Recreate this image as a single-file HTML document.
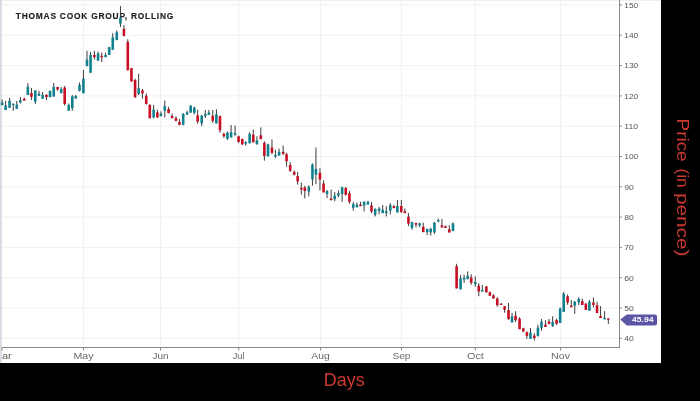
<!DOCTYPE html>
<html><head><meta charset="utf-8"><style>
html,body{margin:0;padding:0;background:#000;width:700px;height:401px;overflow:hidden}
svg{display:block;will-change:transform}
text{font-family:"Liberation Sans",sans-serif}
</style></head><body>
<svg width="700" height="401" viewBox="0 0 700 401">
<rect x="0" y="0" width="661" height="363" fill="#fff"/>
<rect x="0" y="0" width="661" height="1" fill="#efefef"/>
<rect x="0" y="0" width="2" height="363" fill="#dadde4"/>
<rect x="2" y="337.80" width="617" height="1" fill="#f1f1f1"/>
<rect x="2" y="307.50" width="617" height="1" fill="#f1f1f1"/>
<rect x="2" y="277.20" width="617" height="1" fill="#f1f1f1"/>
<rect x="2" y="246.90" width="617" height="1" fill="#f1f1f1"/>
<rect x="2" y="216.60" width="617" height="1" fill="#f1f1f1"/>
<rect x="2" y="186.30" width="617" height="1" fill="#f1f1f1"/>
<rect x="2" y="156.00" width="617" height="1" fill="#f1f1f1"/>
<rect x="2" y="125.70" width="617" height="1" fill="#f1f1f1"/>
<rect x="2" y="95.40" width="617" height="1" fill="#f1f1f1"/>
<rect x="2" y="65.10" width="617" height="1" fill="#f1f1f1"/>
<rect x="2" y="34.80" width="617" height="1" fill="#f1f1f1"/>
<rect x="2" y="4.50" width="617" height="1" fill="#f1f1f1"/>
<rect x="83.00" y="0" width="1" height="347" fill="#f1f1f1"/>
<rect x="160.00" y="0" width="1" height="347" fill="#f1f1f1"/>
<rect x="238.20" y="0" width="1" height="347" fill="#f1f1f1"/>
<rect x="320.10" y="0" width="1" height="347" fill="#f1f1f1"/>
<rect x="401.00" y="0" width="1" height="347" fill="#f1f1f1"/>
<rect x="474.90" y="0" width="1" height="347" fill="#f1f1f1"/>
<rect x="560.10" y="0" width="1" height="347" fill="#f1f1f1"/>
<rect x="2" y="347" width="618" height="1" fill="#8a8a8a"/>
<rect x="619" y="0" width="1" height="347.8" fill="#8a8a8a"/>
<rect x="83.00" y="347.5" width="1" height="3" fill="#8a8a8a"/>
<rect x="160.00" y="347.5" width="1" height="3" fill="#8a8a8a"/>
<rect x="238.20" y="347.5" width="1" height="3" fill="#8a8a8a"/>
<rect x="320.10" y="347.5" width="1" height="3" fill="#8a8a8a"/>
<rect x="401.00" y="347.5" width="1" height="3" fill="#8a8a8a"/>
<rect x="474.90" y="347.5" width="1" height="3" fill="#8a8a8a"/>
<rect x="560.10" y="347.5" width="1" height="3" fill="#8a8a8a"/>
<rect x="1.5" y="347.5" width="1" height="3" fill="#8a8a8a"/>
<rect x="619.5" y="337.80" width="2.5" height="1" fill="#8a8a8a"/>
<rect x="619.5" y="307.50" width="2.5" height="1" fill="#8a8a8a"/>
<rect x="619.5" y="277.20" width="2.5" height="1" fill="#8a8a8a"/>
<rect x="619.5" y="246.90" width="2.5" height="1" fill="#8a8a8a"/>
<rect x="619.5" y="216.60" width="2.5" height="1" fill="#8a8a8a"/>
<rect x="619.5" y="186.30" width="2.5" height="1" fill="#8a8a8a"/>
<rect x="619.5" y="156.00" width="2.5" height="1" fill="#8a8a8a"/>
<rect x="619.5" y="125.70" width="2.5" height="1" fill="#8a8a8a"/>
<rect x="619.5" y="95.40" width="2.5" height="1" fill="#8a8a8a"/>
<rect x="619.5" y="65.10" width="2.5" height="1" fill="#8a8a8a"/>
<rect x="619.5" y="34.80" width="2.5" height="1" fill="#8a8a8a"/>
<rect x="619.5" y="4.50" width="2.5" height="1" fill="#8a8a8a"/>
<text x="15.8" y="18.9" font-size="8.4" font-weight="bold" fill="#1e1e1e" stroke="#1e1e1e" stroke-width="0.15" textLength="157.5" lengthAdjust="spacing">THOMAS COOK GROUP, ROLLING</text>
<rect x="1.61" y="99.50" width="1.0" height="6.00" fill="#3c3c3c"/>
<rect x="0.81" y="102.50" width="2.6" height="2.50" fill="#10828f"/>
<rect x="5.11" y="101.00" width="1.0" height="9.00" fill="#3c3c3c"/>
<rect x="4.31" y="105.50" width="2.6" height="4.50" fill="#10828f"/>
<rect x="9.06" y="98.00" width="1.0" height="10.00" fill="#3c3c3c"/>
<rect x="8.26" y="100.80" width="2.6" height="7.00" fill="#10828f"/>
<rect x="12.71" y="103.70" width="1.0" height="7.10" fill="#3c3c3c"/>
<rect x="11.91" y="103.70" width="2.6" height="1.30" fill="#10828f"/>
<rect x="16.25" y="101.00" width="1.0" height="7.80" fill="#3c3c3c"/>
<rect x="15.45" y="104.70" width="2.6" height="4.10" fill="#10828f"/>
<rect x="19.85" y="97.00" width="1.0" height="6.50" fill="#3c3c3c"/>
<rect x="19.05" y="100.00" width="2.6" height="2.50" fill="#10828f"/>
<rect x="23.75" y="97.50" width="1.0" height="3.30" fill="#3c3c3c"/>
<rect x="22.95" y="98.80" width="2.6" height="1.70" fill="#c80f24"/>
<rect x="27.35" y="83.20" width="1.0" height="11.80" fill="#3c3c3c"/>
<rect x="26.55" y="86.80" width="2.6" height="8.20" fill="#10828f"/>
<rect x="30.95" y="88.00" width="1.0" height="12.00" fill="#3c3c3c"/>
<rect x="30.15" y="93.00" width="2.6" height="3.80" fill="#c80f24"/>
<rect x="34.79" y="90.00" width="1.0" height="14.00" fill="#3c3c3c"/>
<rect x="33.99" y="90.50" width="2.6" height="11.30" fill="#10828f"/>
<rect x="38.49" y="90.70" width="1.0" height="5.30" fill="#3c3c3c"/>
<rect x="37.69" y="93.80" width="2.6" height="2.00" fill="#10828f"/>
<rect x="42.09" y="92.00" width="1.0" height="6.80" fill="#3c3c3c"/>
<rect x="41.29" y="94.80" width="2.6" height="4.00" fill="#10828f"/>
<rect x="45.94" y="94.20" width="1.0" height="5.80" fill="#3c3c3c"/>
<rect x="45.14" y="94.80" width="2.6" height="2.40" fill="#c80f24"/>
<rect x="49.54" y="90.50" width="1.0" height="7.00" fill="#3c3c3c"/>
<rect x="48.74" y="91.00" width="2.6" height="6.00" fill="#10828f"/>
<rect x="53.23" y="83.00" width="1.0" height="13.50" fill="#3c3c3c"/>
<rect x="52.43" y="86.80" width="2.6" height="9.70" fill="#10828f"/>
<rect x="57.08" y="86.80" width="1.0" height="4.00" fill="#3c3c3c"/>
<rect x="56.28" y="87.00" width="2.6" height="2.50" fill="#c80f24"/>
<rect x="60.73" y="87.00" width="1.0" height="6.50" fill="#3c3c3c"/>
<rect x="59.93" y="89.00" width="2.6" height="4.00" fill="#10828f"/>
<rect x="64.18" y="86.00" width="1.0" height="19.50" fill="#3c3c3c"/>
<rect x="63.38" y="87.60" width="2.6" height="16.40" fill="#c80f24"/>
<rect x="68.23" y="103.50" width="1.0" height="7.20" fill="#3c3c3c"/>
<rect x="67.43" y="105.00" width="2.6" height="5.70" fill="#10828f"/>
<rect x="71.77" y="95.00" width="1.0" height="15.70" fill="#3c3c3c"/>
<rect x="70.97" y="96.40" width="2.6" height="11.80" fill="#10828f"/>
<rect x="75.27" y="94.80" width="1.0" height="4.10" fill="#3c3c3c"/>
<rect x="74.47" y="96.00" width="2.6" height="2.30" fill="#10828f"/>
<rect x="79.02" y="82.60" width="1.0" height="8.80" fill="#3c3c3c"/>
<rect x="78.22" y="84.90" width="2.6" height="5.90" fill="#10828f"/>
<rect x="82.92" y="69.90" width="1.0" height="23.40" fill="#3c3c3c"/>
<rect x="82.12" y="78.70" width="2.6" height="14.60" fill="#10828f"/>
<rect x="86.47" y="50.80" width="1.0" height="15.70" fill="#3c3c3c"/>
<rect x="85.67" y="59.60" width="2.6" height="6.20" fill="#10828f"/>
<rect x="90.06" y="52.10" width="1.0" height="20.60" fill="#3c3c3c"/>
<rect x="89.26" y="55.00" width="2.6" height="17.70" fill="#10828f"/>
<rect x="93.86" y="50.80" width="1.0" height="8.80" fill="#3c3c3c"/>
<rect x="93.06" y="55.00" width="2.6" height="2.20" fill="#c80f24"/>
<rect x="97.56" y="51.60" width="1.0" height="9.00" fill="#3c3c3c"/>
<rect x="96.76" y="53.50" width="2.6" height="7.10" fill="#10828f"/>
<rect x="101.21" y="52.70" width="1.0" height="9.30" fill="#3c3c3c"/>
<rect x="100.41" y="55.80" width="2.6" height="1.40" fill="#c80f24"/>
<rect x="105.06" y="52.70" width="1.0" height="4.50" fill="#3c3c3c"/>
<rect x="104.26" y="55.00" width="2.6" height="2.20" fill="#10828f"/>
<rect x="108.70" y="46.80" width="1.0" height="8.20" fill="#3c3c3c"/>
<rect x="107.90" y="47.10" width="2.6" height="7.90" fill="#10828f"/>
<rect x="112.25" y="33.20" width="1.0" height="16.50" fill="#3c3c3c"/>
<rect x="111.45" y="37.50" width="2.6" height="12.20" fill="#10828f"/>
<rect x="116.25" y="30.50" width="1.0" height="9.60" fill="#3c3c3c"/>
<rect x="115.45" y="32.30" width="2.6" height="7.80" fill="#10828f"/>
<rect x="119.95" y="6.10" width="1.0" height="20.90" fill="#3c3c3c"/>
<rect x="119.15" y="17.50" width="2.6" height="6.10" fill="#10828f"/>
<rect x="123.44" y="25.30" width="1.0" height="11.30" fill="#3c3c3c"/>
<rect x="122.64" y="28.80" width="2.6" height="7.00" fill="#c80f24"/>
<rect x="127.29" y="39.30" width="1.0" height="31.00" fill="#3c3c3c"/>
<rect x="126.49" y="41.90" width="2.6" height="28.40" fill="#c80f24"/>
<rect x="130.94" y="68.00" width="1.0" height="13.50" fill="#3c3c3c"/>
<rect x="130.14" y="68.00" width="2.6" height="13.50" fill="#c80f24"/>
<rect x="134.59" y="78.60" width="1.0" height="19.30" fill="#3c3c3c"/>
<rect x="133.79" y="80.00" width="2.6" height="17.20" fill="#c80f24"/>
<rect x="138.14" y="73.70" width="1.0" height="21.30" fill="#3c3c3c"/>
<rect x="137.34" y="88.20" width="2.6" height="5.70" fill="#10828f"/>
<rect x="141.98" y="88.90" width="1.0" height="9.90" fill="#3c3c3c"/>
<rect x="141.18" y="90.50" width="2.6" height="2.90" fill="#c80f24"/>
<rect x="145.73" y="93.40" width="1.0" height="11.20" fill="#3c3c3c"/>
<rect x="144.93" y="95.70" width="2.6" height="8.30" fill="#c80f24"/>
<rect x="149.28" y="104.00" width="1.0" height="14.50" fill="#3c3c3c"/>
<rect x="148.48" y="105.00" width="2.6" height="13.10" fill="#c80f24"/>
<rect x="153.13" y="105.00" width="1.0" height="13.50" fill="#3c3c3c"/>
<rect x="152.33" y="109.60" width="2.6" height="7.80" fill="#10828f"/>
<rect x="156.88" y="109.60" width="1.0" height="8.40" fill="#3c3c3c"/>
<rect x="156.08" y="112.30" width="2.6" height="5.10" fill="#c80f24"/>
<rect x="160.42" y="111.40" width="1.0" height="5.10" fill="#3c3c3c"/>
<rect x="159.62" y="113.60" width="2.6" height="2.30" fill="#10828f"/>
<rect x="164.27" y="100.60" width="1.0" height="16.80" fill="#3c3c3c"/>
<rect x="163.47" y="106.20" width="2.6" height="4.50" fill="#10828f"/>
<rect x="168.07" y="106.90" width="1.0" height="6.60" fill="#3c3c3c"/>
<rect x="167.27" y="109.10" width="2.6" height="3.90" fill="#c80f24"/>
<rect x="171.57" y="113.60" width="1.0" height="4.90" fill="#3c3c3c"/>
<rect x="170.77" y="115.90" width="2.6" height="2.20" fill="#c80f24"/>
<rect x="175.47" y="116.30" width="1.0" height="5.00" fill="#3c3c3c"/>
<rect x="174.67" y="118.10" width="2.6" height="2.70" fill="#c80f24"/>
<rect x="178.96" y="119.00" width="1.0" height="6.30" fill="#3c3c3c"/>
<rect x="178.16" y="121.90" width="2.6" height="2.90" fill="#c80f24"/>
<rect x="182.71" y="113.00" width="1.0" height="12.30" fill="#3c3c3c"/>
<rect x="181.91" y="114.00" width="2.6" height="10.80" fill="#10828f"/>
<rect x="186.61" y="110.70" width="1.0" height="4.30" fill="#3c3c3c"/>
<rect x="185.81" y="112.30" width="2.6" height="2.20" fill="#10828f"/>
<rect x="190.16" y="105.00" width="1.0" height="7.90" fill="#3c3c3c"/>
<rect x="189.36" y="105.80" width="2.6" height="6.70" fill="#10828f"/>
<rect x="193.81" y="106.70" width="1.0" height="7.70" fill="#3c3c3c"/>
<rect x="193.01" y="107.60" width="2.6" height="5.20" fill="#10828f"/>
<rect x="197.15" y="109.90" width="1.0" height="13.90" fill="#3c3c3c"/>
<rect x="196.35" y="115.30" width="2.6" height="6.40" fill="#c80f24"/>
<rect x="201.20" y="114.80" width="1.0" height="11.30" fill="#3c3c3c"/>
<rect x="200.40" y="115.70" width="2.6" height="7.70" fill="#10828f"/>
<rect x="204.80" y="109.90" width="1.0" height="8.10" fill="#3c3c3c"/>
<rect x="204.00" y="114.10" width="2.6" height="2.00" fill="#10828f"/>
<rect x="208.35" y="109.90" width="1.0" height="5.10" fill="#3c3c3c"/>
<rect x="207.55" y="112.50" width="2.6" height="2.30" fill="#10828f"/>
<rect x="212.25" y="109.90" width="1.0" height="13.00" fill="#3c3c3c"/>
<rect x="211.45" y="115.70" width="2.6" height="5.20" fill="#c80f24"/>
<rect x="215.89" y="109.30" width="1.0" height="14.10" fill="#3c3c3c"/>
<rect x="215.09" y="114.40" width="2.6" height="9.00" fill="#10828f"/>
<rect x="219.49" y="115.70" width="1.0" height="16.90" fill="#3c3c3c"/>
<rect x="218.69" y="116.00" width="2.6" height="14.30" fill="#c80f24"/>
<rect x="223.39" y="132.60" width="1.0" height="5.40" fill="#3c3c3c"/>
<rect x="222.59" y="133.90" width="2.6" height="2.40" fill="#c80f24"/>
<rect x="226.94" y="131.50" width="1.0" height="8.50" fill="#3c3c3c"/>
<rect x="226.14" y="132.60" width="2.6" height="6.20" fill="#10828f"/>
<rect x="230.59" y="125.00" width="1.0" height="12.50" fill="#3c3c3c"/>
<rect x="229.79" y="132.30" width="2.6" height="5.20" fill="#10828f"/>
<rect x="234.58" y="125.50" width="1.0" height="10.30" fill="#3c3c3c"/>
<rect x="233.78" y="133.10" width="2.6" height="1.60" fill="#10828f"/>
<rect x="238.08" y="135.50" width="1.0" height="7.30" fill="#3c3c3c"/>
<rect x="237.28" y="136.30" width="2.6" height="5.70" fill="#c80f24"/>
<rect x="241.78" y="138.40" width="1.0" height="6.50" fill="#3c3c3c"/>
<rect x="240.98" y="139.00" width="2.6" height="5.40" fill="#c80f24"/>
<rect x="245.23" y="141.20" width="1.0" height="4.40" fill="#3c3c3c"/>
<rect x="244.43" y="142.00" width="2.6" height="1.60" fill="#10828f"/>
<rect x="249.13" y="132.30" width="1.0" height="11.00" fill="#3c3c3c"/>
<rect x="248.33" y="133.90" width="2.6" height="9.40" fill="#10828f"/>
<rect x="252.77" y="129.80" width="1.0" height="12.50" fill="#3c3c3c"/>
<rect x="251.97" y="134.70" width="2.6" height="7.60" fill="#c80f24"/>
<rect x="256.42" y="136.30" width="1.0" height="8.10" fill="#3c3c3c"/>
<rect x="255.62" y="140.20" width="2.6" height="4.20" fill="#10828f"/>
<rect x="260.32" y="127.40" width="1.0" height="12.10" fill="#3c3c3c"/>
<rect x="259.52" y="135.30" width="2.6" height="3.70" fill="#c80f24"/>
<rect x="263.87" y="141.20" width="1.0" height="19.50" fill="#3c3c3c"/>
<rect x="263.07" y="142.90" width="2.6" height="13.10" fill="#c80f24"/>
<rect x="267.51" y="143.70" width="1.0" height="12.70" fill="#3c3c3c"/>
<rect x="266.71" y="144.40" width="2.6" height="12.00" fill="#10828f"/>
<rect x="271.46" y="139.50" width="1.0" height="14.80" fill="#3c3c3c"/>
<rect x="270.66" y="147.50" width="2.6" height="5.30" fill="#c80f24"/>
<rect x="274.91" y="149.70" width="1.0" height="8.40" fill="#3c3c3c"/>
<rect x="274.11" y="155.00" width="2.6" height="1.40" fill="#10828f"/>
<rect x="278.56" y="148.60" width="1.0" height="7.00" fill="#3c3c3c"/>
<rect x="277.76" y="151.80" width="2.6" height="3.80" fill="#10828f"/>
<rect x="282.66" y="145.40" width="1.0" height="9.60" fill="#3c3c3c"/>
<rect x="281.86" y="151.80" width="2.6" height="2.10" fill="#c80f24"/>
<rect x="286.05" y="152.80" width="1.0" height="13.80" fill="#3c3c3c"/>
<rect x="285.25" y="154.30" width="2.6" height="7.00" fill="#c80f24"/>
<rect x="289.70" y="162.00" width="1.0" height="9.90" fill="#3c3c3c"/>
<rect x="288.90" y="164.90" width="2.6" height="5.90" fill="#c80f24"/>
<rect x="293.70" y="170.40" width="1.0" height="5.10" fill="#3c3c3c"/>
<rect x="292.90" y="171.90" width="2.6" height="2.80" fill="#c80f24"/>
<rect x="297.15" y="171.90" width="1.0" height="12.70" fill="#3c3c3c"/>
<rect x="296.35" y="176.10" width="2.6" height="5.30" fill="#c80f24"/>
<rect x="300.80" y="182.50" width="1.0" height="12.10" fill="#3c3c3c"/>
<rect x="300.00" y="187.80" width="2.6" height="1.70" fill="#c80f24"/>
<rect x="304.29" y="185.70" width="1.0" height="12.70" fill="#3c3c3c"/>
<rect x="303.49" y="187.40" width="2.6" height="3.60" fill="#c80f24"/>
<rect x="308.29" y="185.30" width="1.0" height="11.00" fill="#3c3c3c"/>
<rect x="307.49" y="186.70" width="2.6" height="4.90" fill="#10828f"/>
<rect x="311.94" y="163.40" width="1.0" height="22.30" fill="#3c3c3c"/>
<rect x="311.14" y="164.50" width="2.6" height="14.80" fill="#10828f"/>
<rect x="315.44" y="147.50" width="1.0" height="36.80" fill="#3c3c3c"/>
<rect x="314.64" y="169.00" width="2.6" height="5.70" fill="#10828f"/>
<rect x="319.44" y="168.20" width="1.0" height="22.30" fill="#3c3c3c"/>
<rect x="318.64" y="172.80" width="2.6" height="6.70" fill="#c80f24"/>
<rect x="323.08" y="180.30" width="1.0" height="12.10" fill="#3c3c3c"/>
<rect x="322.28" y="183.50" width="2.6" height="8.90" fill="#c80f24"/>
<rect x="326.53" y="190.00" width="1.0" height="8.10" fill="#3c3c3c"/>
<rect x="325.73" y="191.10" width="2.6" height="2.90" fill="#10828f"/>
<rect x="330.58" y="189.50" width="1.0" height="10.70" fill="#3c3c3c"/>
<rect x="329.78" y="198.60" width="2.6" height="1.60" fill="#c80f24"/>
<rect x="334.23" y="192.10" width="1.0" height="9.20" fill="#3c3c3c"/>
<rect x="333.43" y="195.70" width="2.6" height="3.50" fill="#10828f"/>
<rect x="337.93" y="190.50" width="1.0" height="6.80" fill="#3c3c3c"/>
<rect x="337.13" y="193.20" width="2.6" height="2.50" fill="#10828f"/>
<rect x="341.62" y="186.70" width="1.0" height="15.10" fill="#3c3c3c"/>
<rect x="340.82" y="187.20" width="2.6" height="6.80" fill="#10828f"/>
<rect x="345.27" y="187.20" width="1.0" height="8.50" fill="#3c3c3c"/>
<rect x="344.47" y="187.90" width="2.6" height="6.90" fill="#c80f24"/>
<rect x="348.92" y="191.10" width="1.0" height="12.70" fill="#3c3c3c"/>
<rect x="348.12" y="193.20" width="2.6" height="8.60" fill="#c80f24"/>
<rect x="352.77" y="201.80" width="1.0" height="8.80" fill="#3c3c3c"/>
<rect x="351.97" y="204.10" width="2.6" height="3.70" fill="#10828f"/>
<rect x="356.47" y="202.50" width="1.0" height="4.80" fill="#3c3c3c"/>
<rect x="355.67" y="204.60" width="2.6" height="2.70" fill="#10828f"/>
<rect x="359.96" y="201.80" width="1.0" height="4.40" fill="#3c3c3c"/>
<rect x="359.16" y="204.60" width="2.6" height="1.60" fill="#c80f24"/>
<rect x="363.61" y="201.30" width="1.0" height="10.20" fill="#3c3c3c"/>
<rect x="362.81" y="201.80" width="2.6" height="3.90" fill="#10828f"/>
<rect x="367.46" y="200.80" width="1.0" height="3.80" fill="#3c3c3c"/>
<rect x="366.66" y="201.80" width="2.6" height="2.80" fill="#10828f"/>
<rect x="371.01" y="201.80" width="1.0" height="11.40" fill="#3c3c3c"/>
<rect x="370.21" y="205.40" width="2.6" height="6.10" fill="#c80f24"/>
<rect x="374.66" y="208.30" width="1.0" height="8.10" fill="#3c3c3c"/>
<rect x="373.86" y="208.90" width="2.6" height="5.90" fill="#10828f"/>
<rect x="378.60" y="207.00" width="1.0" height="7.30" fill="#3c3c3c"/>
<rect x="377.80" y="208.50" width="2.6" height="2.40" fill="#10828f"/>
<rect x="382.20" y="205.10" width="1.0" height="8.10" fill="#3c3c3c"/>
<rect x="381.40" y="209.80" width="2.6" height="3.30" fill="#10828f"/>
<rect x="385.75" y="206.20" width="1.0" height="10.20" fill="#3c3c3c"/>
<rect x="384.95" y="211.20" width="2.6" height="1.90" fill="#10828f"/>
<rect x="389.80" y="203.10" width="1.0" height="11.20" fill="#3c3c3c"/>
<rect x="389.00" y="205.20" width="2.6" height="5.40" fill="#10828f"/>
<rect x="393.40" y="204.70" width="1.0" height="3.40" fill="#3c3c3c"/>
<rect x="392.60" y="206.20" width="2.6" height="1.90" fill="#c80f24"/>
<rect x="396.89" y="200.00" width="1.0" height="12.40" fill="#3c3c3c"/>
<rect x="396.09" y="206.00" width="2.6" height="6.40" fill="#10828f"/>
<rect x="400.79" y="200.00" width="1.0" height="13.10" fill="#3c3c3c"/>
<rect x="399.99" y="206.00" width="2.6" height="5.80" fill="#c80f24"/>
<rect x="404.34" y="208.50" width="1.0" height="4.60" fill="#3c3c3c"/>
<rect x="403.54" y="211.20" width="2.6" height="1.90" fill="#c80f24"/>
<rect x="407.94" y="213.10" width="1.0" height="13.10" fill="#3c3c3c"/>
<rect x="407.14" y="216.80" width="2.6" height="6.90" fill="#c80f24"/>
<rect x="411.48" y="221.80" width="1.0" height="7.90" fill="#3c3c3c"/>
<rect x="410.68" y="222.20" width="2.6" height="5.80" fill="#10828f"/>
<rect x="415.48" y="222.70" width="1.0" height="4.70" fill="#3c3c3c"/>
<rect x="414.68" y="223.00" width="2.6" height="1.70" fill="#c80f24"/>
<rect x="419.08" y="222.70" width="1.0" height="4.50" fill="#3c3c3c"/>
<rect x="418.28" y="223.40" width="2.6" height="2.10" fill="#10828f"/>
<rect x="422.73" y="222.70" width="1.0" height="9.40" fill="#3c3c3c"/>
<rect x="421.93" y="226.80" width="2.6" height="5.30" fill="#c80f24"/>
<rect x="426.68" y="228.70" width="1.0" height="6.40" fill="#3c3c3c"/>
<rect x="425.88" y="228.90" width="2.6" height="3.20" fill="#10828f"/>
<rect x="430.22" y="227.70" width="1.0" height="7.80" fill="#3c3c3c"/>
<rect x="429.42" y="228.90" width="2.6" height="3.50" fill="#10828f"/>
<rect x="433.92" y="221.80" width="1.0" height="12.10" fill="#3c3c3c"/>
<rect x="433.12" y="222.70" width="2.6" height="9.70" fill="#10828f"/>
<rect x="437.82" y="218.70" width="1.0" height="3.70" fill="#3c3c3c"/>
<rect x="437.02" y="220.20" width="2.6" height="1.20" fill="#10828f"/>
<rect x="441.42" y="218.90" width="1.0" height="8.50" fill="#3c3c3c"/>
<rect x="440.62" y="225.20" width="2.6" height="2.20" fill="#c80f24"/>
<rect x="444.92" y="225.50" width="1.0" height="2.50" fill="#3c3c3c"/>
<rect x="444.12" y="226.40" width="2.6" height="1.60" fill="#c80f24"/>
<rect x="448.81" y="225.20" width="1.0" height="7.40" fill="#3c3c3c"/>
<rect x="448.01" y="229.30" width="2.6" height="3.10" fill="#c80f24"/>
<rect x="452.51" y="222.40" width="1.0" height="8.70" fill="#3c3c3c"/>
<rect x="451.71" y="223.40" width="2.6" height="7.70" fill="#10828f"/>
<rect x="456.11" y="263.80" width="1.0" height="24.60" fill="#3c3c3c"/>
<rect x="455.31" y="266.20" width="2.6" height="22.20" fill="#c80f24"/>
<rect x="460.06" y="275.00" width="1.0" height="14.40" fill="#3c3c3c"/>
<rect x="459.26" y="278.40" width="2.6" height="11.00" fill="#10828f"/>
<rect x="463.61" y="274.80" width="1.0" height="8.10" fill="#3c3c3c"/>
<rect x="462.81" y="277.70" width="2.6" height="1.80" fill="#10828f"/>
<rect x="467.15" y="271.40" width="1.0" height="8.10" fill="#3c3c3c"/>
<rect x="466.35" y="275.80" width="2.6" height="3.10" fill="#10828f"/>
<rect x="470.70" y="274.20" width="1.0" height="10.50" fill="#3c3c3c"/>
<rect x="469.90" y="277.40" width="2.6" height="5.50" fill="#c80f24"/>
<rect x="474.75" y="276.30" width="1.0" height="10.50" fill="#3c3c3c"/>
<rect x="473.95" y="281.90" width="2.6" height="2.30" fill="#10828f"/>
<rect x="478.25" y="283.10" width="1.0" height="13.10" fill="#3c3c3c"/>
<rect x="477.45" y="285.70" width="2.6" height="5.80" fill="#c80f24"/>
<rect x="481.75" y="285.00" width="1.0" height="6.50" fill="#3c3c3c"/>
<rect x="480.95" y="289.90" width="2.6" height="1.60" fill="#10828f"/>
<rect x="485.84" y="286.00" width="1.0" height="6.80" fill="#3c3c3c"/>
<rect x="485.04" y="286.50" width="2.6" height="5.80" fill="#c80f24"/>
<rect x="489.37" y="291.50" width="1.0" height="4.30" fill="#3c3c3c"/>
<rect x="488.57" y="292.20" width="2.6" height="3.60" fill="#c80f24"/>
<rect x="492.91" y="294.20" width="1.0" height="4.60" fill="#3c3c3c"/>
<rect x="492.11" y="295.40" width="2.6" height="3.00" fill="#c80f24"/>
<rect x="496.76" y="297.30" width="1.0" height="9.40" fill="#3c3c3c"/>
<rect x="495.96" y="298.50" width="2.6" height="6.70" fill="#c80f24"/>
<rect x="500.59" y="303.00" width="1.0" height="1.80" fill="#3c3c3c"/>
<rect x="499.79" y="303.70" width="2.6" height="1.20" fill="#c80f24"/>
<rect x="504.08" y="306.00" width="1.0" height="6.70" fill="#3c3c3c"/>
<rect x="503.28" y="306.30" width="2.6" height="3.40" fill="#c80f24"/>
<rect x="508.03" y="303.00" width="1.0" height="16.70" fill="#3c3c3c"/>
<rect x="507.23" y="310.10" width="2.6" height="9.00" fill="#c80f24"/>
<rect x="511.53" y="312.70" width="1.0" height="9.70" fill="#3c3c3c"/>
<rect x="510.73" y="316.40" width="2.6" height="6.00" fill="#10828f"/>
<rect x="515.08" y="311.20" width="1.0" height="10.90" fill="#3c3c3c"/>
<rect x="514.28" y="315.70" width="2.6" height="4.50" fill="#c80f24"/>
<rect x="519.08" y="317.20" width="1.0" height="12.00" fill="#3c3c3c"/>
<rect x="518.28" y="318.70" width="2.6" height="10.50" fill="#c80f24"/>
<rect x="522.82" y="327.70" width="1.0" height="4.50" fill="#3c3c3c"/>
<rect x="522.02" y="328.40" width="2.6" height="3.00" fill="#c80f24"/>
<rect x="526.37" y="331.40" width="1.0" height="7.50" fill="#3c3c3c"/>
<rect x="525.57" y="332.20" width="2.6" height="3.70" fill="#c80f24"/>
<rect x="529.97" y="328.10" width="1.0" height="10.80" fill="#3c3c3c"/>
<rect x="529.17" y="332.60" width="2.6" height="6.30" fill="#10828f"/>
<rect x="533.82" y="333.20" width="1.0" height="7.20" fill="#3c3c3c"/>
<rect x="533.02" y="335.60" width="2.6" height="2.50" fill="#c80f24"/>
<rect x="537.42" y="324.70" width="1.0" height="11.90" fill="#3c3c3c"/>
<rect x="536.62" y="327.70" width="2.6" height="8.20" fill="#10828f"/>
<rect x="541.01" y="319.10" width="1.0" height="11.60" fill="#3c3c3c"/>
<rect x="540.21" y="321.70" width="2.6" height="6.00" fill="#10828f"/>
<rect x="544.96" y="320.20" width="1.0" height="6.70" fill="#3c3c3c"/>
<rect x="544.16" y="324.70" width="2.6" height="2.20" fill="#c80f24"/>
<rect x="548.53" y="319.00" width="1.0" height="5.20" fill="#3c3c3c"/>
<rect x="547.73" y="321.50" width="2.6" height="2.50" fill="#c80f24"/>
<rect x="552.18" y="316.20" width="1.0" height="10.70" fill="#3c3c3c"/>
<rect x="551.38" y="321.80" width="2.6" height="4.30" fill="#10828f"/>
<rect x="556.06" y="318.50" width="1.0" height="6.60" fill="#3c3c3c"/>
<rect x="555.26" y="320.00" width="2.6" height="3.80" fill="#c80f24"/>
<rect x="559.65" y="307.40" width="1.0" height="15.60" fill="#3c3c3c"/>
<rect x="558.85" y="308.70" width="2.6" height="14.30" fill="#10828f"/>
<rect x="563.20" y="291.90" width="1.0" height="19.90" fill="#3c3c3c"/>
<rect x="562.40" y="293.70" width="2.6" height="18.10" fill="#10828f"/>
<rect x="567.10" y="294.40" width="1.0" height="10.30" fill="#3c3c3c"/>
<rect x="566.30" y="296.20" width="2.6" height="6.30" fill="#c80f24"/>
<rect x="570.75" y="300.00" width="1.0" height="7.20" fill="#3c3c3c"/>
<rect x="569.95" y="305.60" width="2.6" height="1.60" fill="#c80f24"/>
<rect x="574.24" y="301.00" width="1.0" height="12.90" fill="#3c3c3c"/>
<rect x="573.44" y="301.80" width="2.6" height="3.80" fill="#10828f"/>
<rect x="578.24" y="297.20" width="1.0" height="7.80" fill="#3c3c3c"/>
<rect x="577.44" y="299.00" width="2.6" height="3.50" fill="#10828f"/>
<rect x="581.79" y="298.50" width="1.0" height="6.50" fill="#3c3c3c"/>
<rect x="580.99" y="301.20" width="2.6" height="3.80" fill="#c80f24"/>
<rect x="585.34" y="303.10" width="1.0" height="6.80" fill="#3c3c3c"/>
<rect x="584.54" y="303.70" width="2.6" height="6.20" fill="#c80f24"/>
<rect x="588.89" y="300.00" width="1.0" height="10.60" fill="#3c3c3c"/>
<rect x="588.09" y="301.80" width="2.6" height="8.80" fill="#10828f"/>
<rect x="592.93" y="297.50" width="1.0" height="9.90" fill="#3c3c3c"/>
<rect x="592.13" y="302.50" width="2.6" height="2.50" fill="#c80f24"/>
<rect x="596.53" y="301.80" width="1.0" height="11.30" fill="#3c3c3c"/>
<rect x="595.73" y="305.20" width="2.6" height="7.90" fill="#c80f24"/>
<rect x="600.08" y="306.20" width="1.0" height="11.80" fill="#3c3c3c"/>
<rect x="599.28" y="315.90" width="2.6" height="2.10" fill="#c80f24"/>
<rect x="604.08" y="311.20" width="1.0" height="8.10" fill="#3c3c3c"/>
<rect x="603.28" y="317.70" width="2.6" height="1.60" fill="#10828f"/>
<rect x="607.83" y="318.40" width="1.0" height="5.50" fill="#3c3c3c"/>
<rect x="607.03" y="318.40" width="2.6" height="1.30" fill="#c80f24"/>
<text x="624.3" y="341.10" font-size="7.5" fill="#555" textLength="9.6" lengthAdjust="spacingAndGlyphs">40</text>
<text x="624.3" y="310.80" font-size="7.5" fill="#555" textLength="9.6" lengthAdjust="spacingAndGlyphs">50</text>
<text x="624.3" y="280.50" font-size="7.5" fill="#555" textLength="9.6" lengthAdjust="spacingAndGlyphs">60</text>
<text x="624.3" y="250.20" font-size="7.5" fill="#555" textLength="9.6" lengthAdjust="spacingAndGlyphs">70</text>
<text x="624.3" y="219.90" font-size="7.5" fill="#555" textLength="9.6" lengthAdjust="spacingAndGlyphs">80</text>
<text x="624.3" y="189.60" font-size="7.5" fill="#555" textLength="9.6" lengthAdjust="spacingAndGlyphs">90</text>
<text x="624.3" y="159.30" font-size="7.5" fill="#555" textLength="13.9" lengthAdjust="spacingAndGlyphs">100</text>
<text x="624.3" y="129.00" font-size="7.5" fill="#555" textLength="13.9" lengthAdjust="spacingAndGlyphs">110</text>
<text x="624.3" y="98.70" font-size="7.5" fill="#555" textLength="13.9" lengthAdjust="spacingAndGlyphs">120</text>
<text x="624.3" y="68.40" font-size="7.5" fill="#555" textLength="13.9" lengthAdjust="spacingAndGlyphs">130</text>
<text x="624.3" y="38.10" font-size="7.5" fill="#555" textLength="13.9" lengthAdjust="spacingAndGlyphs">140</text>
<text x="624.3" y="7.80" font-size="7.5" fill="#555" textLength="13.9" lengthAdjust="spacingAndGlyphs">150</text>
<text x="73.50" y="359.2" font-size="8.9" fill="#6a6a6a" textLength="20" lengthAdjust="spacingAndGlyphs">May</text>
<text x="152.50" y="359.2" font-size="8.9" fill="#6a6a6a" textLength="16" lengthAdjust="spacingAndGlyphs">Jun</text>
<text x="232.70" y="359.2" font-size="8.9" fill="#6a6a6a" textLength="12" lengthAdjust="spacingAndGlyphs">Jul</text>
<text x="311.35" y="359.2" font-size="8.9" fill="#6a6a6a" textLength="18.5" lengthAdjust="spacingAndGlyphs">Aug</text>
<text x="392.50" y="359.2" font-size="8.9" fill="#6a6a6a" textLength="18" lengthAdjust="spacingAndGlyphs">Sep</text>
<text x="466.90" y="359.2" font-size="8.9" fill="#6a6a6a" textLength="17" lengthAdjust="spacingAndGlyphs">Oct</text>
<text x="551.10" y="359.2" font-size="8.9" fill="#6a6a6a" textLength="19" lengthAdjust="spacingAndGlyphs">Nov</text>
<text x="1.9" y="359.2" font-size="8.2" fill="#5e5e5e" textLength="9.8" lengthAdjust="spacingAndGlyphs">ar</text>
<path d="M620.3 319.6 L626.8 314.4 L655 314.4 Q657 314.4 657 316.4 L657 323.6 Q657 325.6 655 325.6 L626.8 325.6 Z" fill="#5b55a6"/>
<text x="632" y="322.4" font-size="7" font-weight="bold" fill="#fff" textLength="21.6" lengthAdjust="spacingAndGlyphs">45.94</text>
<text x="323.8" y="386" font-size="17.5" fill="#cc3a30" textLength="40.8" lengthAdjust="spacingAndGlyphs">Days</text>
<g transform="translate(676.5,0) rotate(90)" font-size="17" fill="#cc3a30">
<text x="118.6" y="0" textLength="43" lengthAdjust="spacingAndGlyphs">Price</text>
<text x="168.6" y="0" textLength="19" lengthAdjust="spacingAndGlyphs">(in</text>
<text x="192.9" y="0" textLength="63.5" lengthAdjust="spacingAndGlyphs">pence)</text>
</g>
</svg>
</body></html>
